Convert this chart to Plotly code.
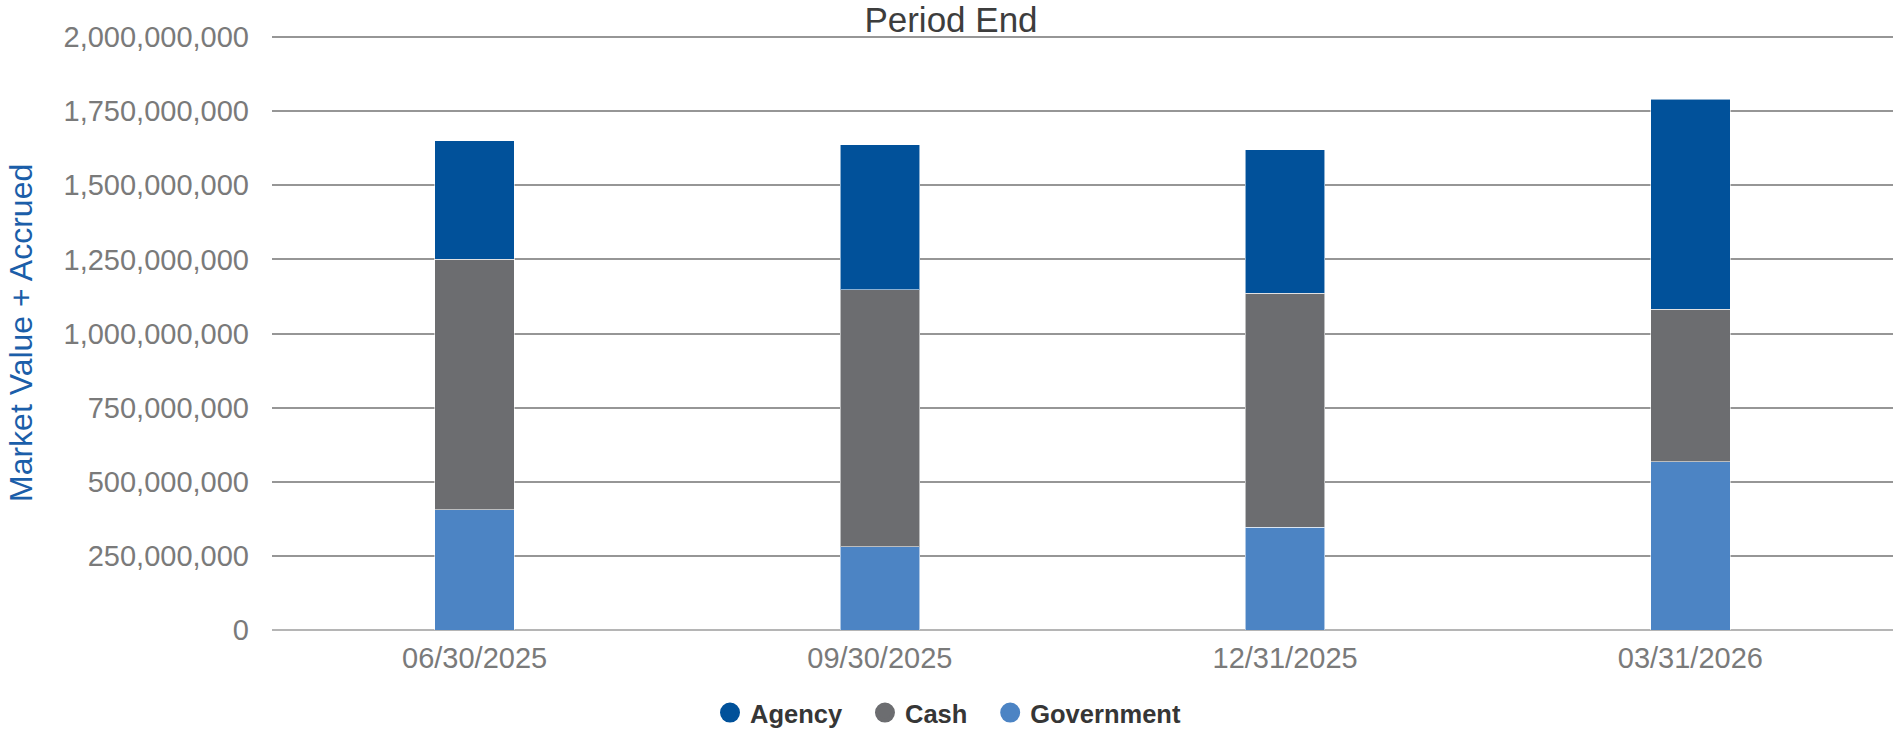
import plotly.graph_objects as go

periods = ["06/30/2025", "09/30/2025", "12/31/2025", "03/31/2026"]
government = [405e6, 281e6, 346e6, 568e6]
cash = [845e6, 866e6, 790e6, 514e6]
agency = [400e6, 489e6, 483e6, 708e6]

series_names = ["Government", "Cash", "Agency"]
series_values = [government, cash, agency]
series_colors = ["#4C84C4", "#6C6D70", "#01519A"]

y_tick_vals = [0, 250e6, 500e6, 750e6, 1000e6, 1250e6, 1500e6, 1750e6, 2000e6]
y_tick_text = ["0", "250,000,000", "500,000,000", "750,000,000", "1,000,000,000",
               "1,250,000,000", "1,500,000,000", "1,750,000,000", "2,000,000,000"]

FONT = "Liberation Sans, Arial, Helvetica, sans-serif"

fig = go.Figure()
for name, vals, col in zip(series_names, series_values, series_colors):
    fig.add_trace(go.Bar(
        x=periods, y=vals, name=name, width=0.196,
        marker=dict(color=col, line=dict(color="rgba(255,255,255,0.55)", width=1)),
        showlegend=False,
    ))

# legend entries with circular symbols (order: Agency, Cash, Government)
for name, col in zip(series_names[::-1], series_colors[::-1]):
    fig.add_trace(go.Scatter(
        x=[None], y=[None], mode="markers", name=name + "\u2002\u2009",
        marker=dict(symbol="circle", size=22, color=col, line=dict(color=col, width=4)),
        showlegend=True,
    ))

PLOT_TOP = 34
PLOT_BOTTOM = 630
PLOT_H = PLOT_BOTTOM - PLOT_TOP
Y_MAX = 2e9 * PLOT_H / (PLOT_BOTTOM - 37)

fig.update_layout(
    width=1896, height=731,
    barmode="stack",
    paper_bgcolor="white", plot_bgcolor="white",
    margin=dict(l=272, r=3, t=PLOT_TOP, b=731 - PLOT_BOTTOM, autoexpand=False),
    font=dict(family=FONT, color="#7a7a7a"),
    title=dict(text="Period End", x=951 / 1896, y=1 - 20 / 731,
               xanchor="center", yanchor="middle",
               font=dict(size=35, color="#3d3d3d", family=FONT)),
    legend=dict(orientation="h", x=(710 - 272) / 1621, xanchor="left",
                y=-(713 - PLOT_BOTTOM) / PLOT_H, yanchor="middle",
                traceorder="normal", borderwidth=0,
                font=dict(size=25.5, color="#363636", family="Liberation Sans, Arial, sans-serif", weight="bold"),
                itemsizing="trace", bgcolor="rgba(0,0,0,0)"),
    showlegend=True,
)

fig.update_xaxes(
    type="category", range=[-0.5, 3.5], showgrid=False, showline=False,
    ticks="", tickfont=dict(size=29, color="#7a7a7a"), ticklabelstandoff=8,
)
fig.update_yaxes(
    range=[0, Y_MAX], tickvals=y_tick_vals, ticktext=y_tick_text,
    showgrid=True, gridcolor="#969696", gridwidth=2,
    zeroline=True, zerolinecolor="#b5b5b5", zerolinewidth=2,
    showline=False, ticks="", tickfont=dict(size=29, color="#7a7a7a"),
    ticklabelstandoff=22,
)

fig.add_annotation(
    text="Market Value + Accrued", textangle=-90,
    xref="paper", yref="paper", x=(21 - 272) / 1621, y=(PLOT_BOTTOM - 333) / PLOT_H,
    xanchor="center", yanchor="middle", showarrow=False,
    font=dict(size=32, color="#1b5ea9", family=FONT),
)

fig.write_html("out.html", config={"displayModeBar": False},
               post_script="document.body.style.margin='0';document.body.style.overflow='hidden';")
